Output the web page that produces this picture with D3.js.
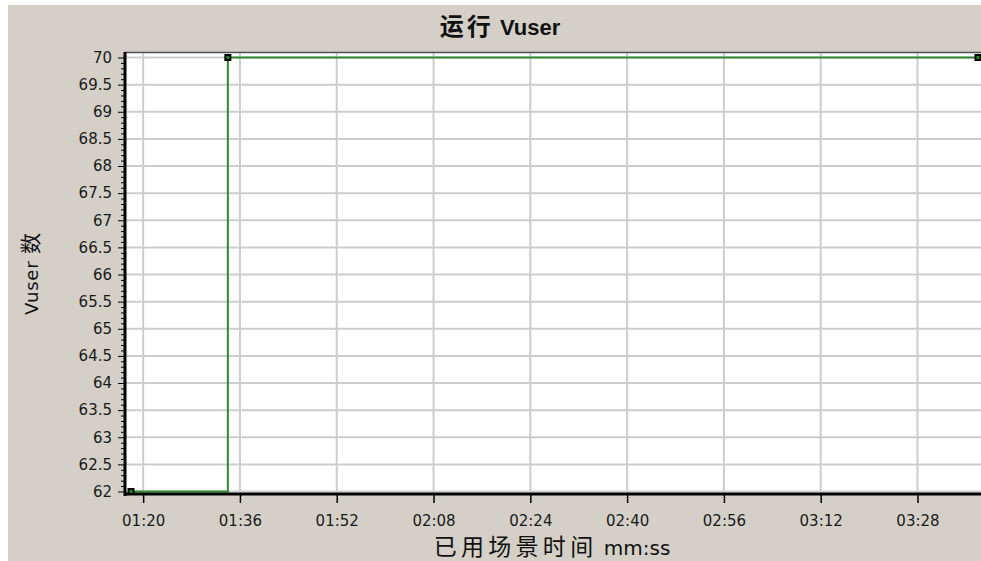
<!DOCTYPE html>
<html>
<head>
<meta charset="utf-8">
<script src="https://cdn.jsdelivr.net/npm/d3@7"></script>
<style>
  html, body { margin: 0; padding: 0; background: #ffffff; }
  svg { display: block; }
</style>
</head>
<body>
<svg id="chart" width="981" height="561"></svg>
<script>
// ---- data ----
const chartTitle = "运行 Vuser";
const xLabelCjk = "已用场景时间";
const xLabelUnit = "mm:ss";
const yLabelLatin = "Vuser";
const yLabelCjk = "数";
const timeSeconds = [78, 94, 218];          // elapsed scenario time (s)
const runningVusers = [62, 70, 70];        // running Vusers
const xTickSeconds = [80, 96, 112, 128, 144, 160, 176, 192, 208];
const xTickLabels = ["01:20", "01:36", "01:52", "02:08", "02:24", "02:40", "02:56", "03:12", "03:28"];
const yTickValues = [62, 62.5, 63, 63.5, 64, 64.5, 65, 65.5, 66, 66.5, 67, 67.5, 68, 68.5, 69, 69.5, 70];
const yTickLabels = ["62", "62.5", "63", "63.5", "64", "64.5", "65", "65.5", "66", "66.5", "67", "67.5", "68", "68.5", "69", "69.5", "70"];

// ---- layout ----
const svg = d3.select("#chart");
const W = 981, H = 561;
const plotL = 125, plotR = 981, plotT = 52, plotB = 494;

const x = d3.scaleLinear().domain([77, 218.5]).range([plotL, plotR]);
const y = d3.scaleLinear().domain([62, 70]).range([491.5, 57.5]);

const labelFont = "'DejaVu Sans', Verdana, sans-serif";
const cjkFont = "'Noto Sans CJK SC', sans-serif";

// panel background
svg.append("rect").attr("x", 8).attr("y", 5).attr("width", W - 8).attr("height", H - 5).attr("fill", "#d4d0c8");

// plot area
svg.append("rect").attr("x", plotL).attr("y", plotT).attr("width", plotR - plotL).attr("height", plotB - plotT).attr("fill", "#ffffff");

// gridlines
const grid = svg.append("g").attr("stroke", "#cdcdcd").attr("stroke-width", 2);
grid.selectAll("line.h").data(yTickValues).join("line")
  .attr("x1", plotL).attr("x2", plotR)
  .attr("y1", d => y(d)).attr("y2", d => y(d));
grid.selectAll("line.v").data(xTickSeconds).join("line")
  .attr("x1", d => x(d)).attr("x2", d => x(d))
  .attr("y1", plotT).attr("y2", plotB);

// top border
svg.append("line").attr("x1", plotL).attr("x2", plotR).attr("y1", plotT + 0.5).attr("y2", plotT + 0.5)
  .attr("stroke", "#505050").attr("stroke-width", 1.5);

// data line (step)
const pts = timeSeconds.map((t, i) => [t, runningVusers[i]]);
const line = d3.line().x(d => x(d[0])).y(d => y(d[1])).curve(d3.curveStepAfter);
svg.append("path").datum(pts).attr("d", line)
  .attr("fill", "none").attr("stroke", "#2f8a2f").attr("stroke-width", 2);

// y axis minor ticks
const yMinor = d3.range(620, 701).map(v => v / 10).filter(v => Math.abs(v * 2 - Math.round(v * 2)) > 1e-6);
const yMinorAxis = d3.axisLeft(y).tickValues(yMinor).tickSize(4).tickFormat("");
svg.append("g").attr("transform", `translate(${plotL},0)`).call(yMinorAxis)
  .call(g => g.select(".domain").remove())
  .selectAll("line").attr("stroke", "#000");

// y axis
const yAxis = d3.axisLeft(y).tickValues(yTickValues).tickSize(7).tickPadding(6)
  .tickFormat((d, i) => yTickLabels[i]);
svg.append("g").attr("transform", `translate(${plotL},0)`).call(yAxis)
  .call(g => g.select(".domain").remove())
  .call(g => g.selectAll("line").attr("stroke", "#000"))
  .call(g => g.selectAll("text").attr("font-family", labelFont).attr("font-size", 15).attr("fill", "#1a1a1a"));

// x axis
const xAxis = d3.axisBottom(x).tickValues(xTickSeconds).tickSize(9).tickPadding(12)
  .tickFormat((d, i) => xTickLabels[i]);
svg.append("g").attr("transform", `translate(0,${plotB})`).call(xAxis)
  .call(g => g.select(".domain").remove())
  .call(g => g.selectAll("line").attr("stroke", "#000").attr("stroke-width", 1.5))
  .call(g => g.selectAll("text").attr("font-family", labelFont).attr("font-size", 15).attr("fill", "#1a1a1a"));

// axis frame lines
svg.append("line").attr("x1", plotL).attr("x2", plotL).attr("y1", plotT).attr("y2", plotB + 2)
  .attr("stroke", "#000").attr("stroke-width", 3);
svg.append("line").attr("x1", plotL - 1).attr("x2", plotR).attr("y1", plotB).attr("y2", plotB)
  .attr("stroke", "#000").attr("stroke-width", 3);

// markers
const mk = svg.append("g");
mk.selectAll("rect.o").data(pts).join("rect")
  .attr("x", d => x(d[0]) - 3.5).attr("y", d => y(d[1]) - 3.5)
  .attr("width", 7).attr("height", 7).attr("fill", "#000");
mk.selectAll("rect.i").data(pts).join("rect").attr("class", "i")
  .attr("x", d => x(d[0]) - 1.5).attr("y", d => y(d[1]) - 1.5)
  .attr("width", 3).attr("height", 3).attr("fill", "#1f8a1f");

// title
const title = svg.append("text").attr("x", 500).attr("y", 35).attr("text-anchor", "middle")
  .attr("font-weight", "bold").attr("fill", "#111");
title.append("tspan").attr("font-family", cjkFont).attr("font-size", 24).attr("letter-spacing", 3).text(chartTitle.split(" ")[0]);
title.append("tspan").attr("font-family", "'Liberation Sans', Arial, sans-serif").attr("font-size", 22).text(" " + chartTitle.split(" ")[1]);

// x label
const xl = svg.append("text").attr("x", 552).attr("y", 555).attr("text-anchor", "middle").attr("fill", "#111");
xl.append("tspan").attr("font-family", cjkFont).attr("font-size", 23).attr("letter-spacing", 4.3).text(xLabelCjk);
xl.append("tspan").attr("font-family", labelFont).attr("font-size", 20).text(" " + xLabelUnit);

// y label
const yl = svg.append("text").attr("transform", "translate(38,274) rotate(-90)").attr("text-anchor", "middle").attr("fill", "#111");
yl.append("tspan").attr("font-family", labelFont).attr("font-size", 18).attr("letter-spacing", 0.8).text(yLabelLatin + " ");
yl.append("tspan").attr("font-family", cjkFont).attr("font-size", 21).text(yLabelCjk);
</script>
</body>
</html>
